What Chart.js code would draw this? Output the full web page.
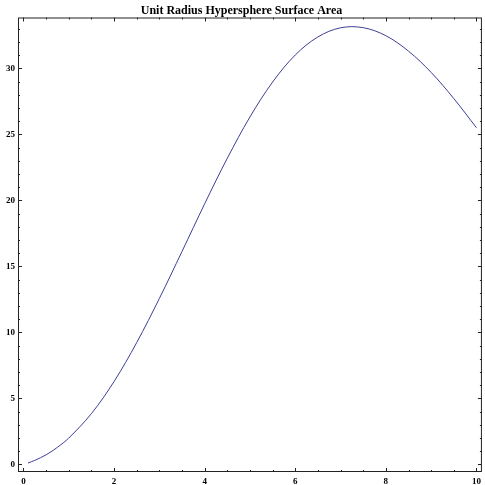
<!DOCTYPE html>
<html>
<head>
<meta charset="utf-8">
<script src="https://cdn.jsdelivr.net/npm/chart.js@4"></script>
<style>
    body { margin: 0; background: #fff; }
    #wrap { width: 485px; height: 485px; position: relative; }
</style>
</head>
<body>
<div id="wrap"><canvas id="surfaceChart"></canvas></div>
<script>
// Values
const dims = [0.1, 0.25, 0.5, 0.75, 1, 1.5, 2, 2.5, 3, 3.5, 4, 4.5, 5, 5.5, 6, 6.5, 7, 7.5, 8, 8.5, 9, 9.5, 10];
const areas = [0.11, 0.31, 0.73, 1.30, 2.00, 3.85, 6.28, 9.23, 12.57, 16.13, 19.74, 23.19, 26.32, 28.96, 31.01, 32.38, 33.07, 33.08, 32.47, 31.30, 29.69, 27.71, 25.50];
const xTicks = [0, 2, 4, 6, 8, 10];
const yTicks = [0, 5, 10, 15, 20, 25, 30];

const tickFont = { family: 'Liberation Serif', size: 9, weight: 'bold' };

// Mathematica-style frame with inward ticks on all four sides
const framePlugin = {
    id: 'frame',
    afterDraw(chart) {
        const ctx = chart.ctx;
        const a = chart.chartArea;
        const xs = chart.scales.x, ys = chart.scales.y;
        ctx.save();
        ctx.strokeStyle = '#222';
        ctx.lineWidth = 1;
        ctx.strokeRect(a.left + 0.5, a.top + 0.5, a.right - a.left - 1, a.bottom - a.top - 1);
        ctx.beginPath();
        for (let v = 0; v <= 10.001; v += 0.5) {
            const px = Math.round(xs.getPixelForValue(v)) + 0.5;
            const len = xTicks.includes(v) ? 4 : 2;
            ctx.moveTo(px, a.bottom); ctx.lineTo(px, a.bottom - len);
            ctx.moveTo(px, a.top); ctx.lineTo(px, a.top + len);
        }
        for (let v = 0; v <= 33; v += 1) {
            const py = Math.round(ys.getPixelForValue(v)) + 0.5;
            const len = yTicks.includes(v) ? 4 : 2;
            ctx.moveTo(a.left, py); ctx.lineTo(a.left + len, py);
            ctx.moveTo(a.right, py); ctx.lineTo(a.right - len, py);
        }
        ctx.stroke();
        ctx.restore();
    }
};

const ctx = document.getElementById('surfaceChart').getContext('2d');
const surfaceChart = new Chart(ctx, {
    type: 'line',
    data: {
        datasets: [{
            data: dims.map((d, i) => ({ x: d, y: areas[i] })),
            borderColor: '#3d3d99',
            borderWidth: 1,
            pointRadius: 0,
            fill: false,
            tension: 0.35
        }]
    },
    options: {
        responsive: true,
        maintainAspectRatio: false,
        animation: false,
        layout: { padding: { left: 0, right: 2, top: 0, bottom: 0 } },
        plugins: {
            legend: { display: false },
            tooltip: { enabled: false },
            title: {
                display: true,
                text: 'Unit Radius Hypersphere Surface Area',
                color: '#000',
                font: { family: 'Liberation Serif', size: 12, weight: 'bold', lineHeight: 1 },
                padding: { top: 5, bottom: 0.5 }
            }
        },
        scales: {
            x: {
                type: 'linear',
                min: -0.12,
                max: 10.12,
                grid: { display: false, drawTicks: false },
                border: { display: false },
                afterBuildTicks: s => { s.ticks = xTicks.map(v => ({ value: v })); },
                afterFit: s => { s.height = 13; },
                ticks: { color: '#000', font: tickFont, padding: 4, maxRotation: 0 }
            },
            y: {
                type: 'linear',
                min: -0.57,
                max: 33.85,
                grid: { display: false, drawTicks: false },
                border: { display: false },
                afterBuildTicks: s => { s.ticks = yTicks.map(v => ({ value: v })); },
                afterFit: s => { s.width = 18; },
                ticks: { color: '#000', font: tickFont, padding: 3 }
            }
        }
    },
    plugins: [framePlugin]
});
</script>
</body>
</html>
